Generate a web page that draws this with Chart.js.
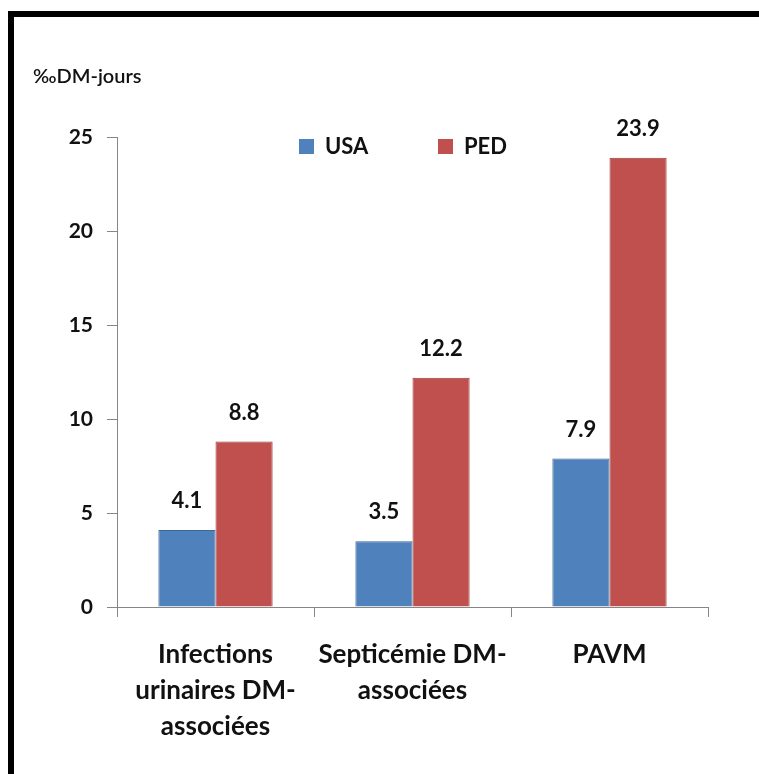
<!DOCTYPE html>
<html>
<head>
<meta charset="utf-8">
<script src="https://cdn.jsdelivr.net/npm/chart.js@4.4.1/dist/chart.umd.min.js"></script>
<style>
  html, body { margin: 0; padding: 0; background: #fff; overflow: hidden; }
  #wrap { position: relative; width: 759px; height: 774px; overflow: hidden; }
  #frame {
    position: absolute; left: 8px; top: 11px; width: 900px; height: 900px;
    border-top: 6px solid #000; border-left: 6px solid #000;
  }
  #chart { position: absolute; left: 0; top: 0; }
</style>
</head>
<body>
<div id="wrap">
  <div id="frame"></div>
  <canvas id="chart" width="759" height="774"></canvas>
</div>
<script>
const categories = [
  ['Infections', 'urinaires DM-', 'associées'],
  ['Septicémie DM-', 'associées'],
  ['PAVM']
];
const seriesNames = ['USA', 'PED'];
const usaValues = [4.1, 3.5, 7.9];
const pedValues = [8.8, 12.2, 23.9];
const yTicks = [0, 5, 10, 15, 20, 25];
const yTitle = '‰DM-jours';

const FONT = 'Lato, "Open Sans", sans-serif';
const AXIS_GREY = '#868686';
const COLORS = [
  { fill: '#4F81BD', border: '#3C6696' },
  { fill: '#C0504D', border: '#983E3C' }
];

// value labels above each bar
const valueLabels = {
  id: 'valueLabels',
  afterDatasetsDraw(chart) {
    const ctx = chart.ctx;
    ctx.save();
    ctx.font = 'bold 22px ' + FONT;
    ctx.fillStyle = '#111';
    ctx.textAlign = 'center';
    ctx.textBaseline = 'middle';
    chart.data.datasets.forEach((ds, i) => {
      chart.getDatasetMeta(i).data.forEach((bar, j) => {
        ctx.fillText(ds.data[j].toFixed(1), bar.x, bar.y - 29);
      });
    });
    ctx.restore();
  }
};

// legend inside the plot area + y title in the top left corner
const extras = {
  id: 'extras',
  afterDraw(chart) {
    const ctx = chart.ctx;
    const area = chart.chartArea;
    ctx.save();
    ctx.font = 'bold 22px ' + FONT;
    ctx.textBaseline = 'middle';
    chart.data.datasets.forEach((ds, i) => {
      const x = area.left + 182 + i * 139;
      const y = area.top + 2;
      ctx.fillStyle = ds.backgroundColor;
      ctx.fillRect(x, y, 15, 15);
      ctx.fillStyle = '#111';
      ctx.textAlign = 'left';
      ctx.fillText(ds.label, x + 26, y + 8);
    });

    ctx.font = '600 20px ' + FONT;
    ctx.fillStyle = '#111';
    ctx.fillText(yTitle, 33, 77);
    ctx.restore();
  }
};

new Chart(document.getElementById('chart').getContext('2d'), {
  type: 'bar',
  data: {
    labels: categories,
    datasets: [usaValues, pedValues].map((vals, i) => ({
      label: seriesNames[i],
      data: vals,
      backgroundColor: COLORS[i].fill,
      borderColor: COLORS[i].border,
      borderWidth: 1,
      categoryPercentage: 0.58,
      barPercentage: 1
    }))
  },
  options: {
    responsive: false,
    animation: false,
    layout: { padding: { top: 137, right: 51, bottom: 0, left: 0 } },
    plugins: {
      legend: { display: false },
      tooltip: { enabled: false }
    },
    scales: {
      x: {
        afterFit(scale) { scale.height = 167; },
        grid: { drawOnChartArea: false, offset: true, tickLength: 10, color: AXIS_GREY },
        border: { color: AXIS_GREY },
        ticks: {
          color: '#111',
          padding: 20,
          maxRotation: 0,
          font: { family: FONT, size: 26, weight: 'bold', lineHeight: 1.38 }
        }
      },
      y: {
        min: yTicks[0],
        max: yTicks[yTicks.length - 1],
        afterFit(scale) { scale.width = 117; },
        afterBuildTicks(scale) { scale.ticks = yTicks.map((v) => ({ value: v })); },
        grid: { drawOnChartArea: false, tickLength: 10, color: AXIS_GREY },
        border: { color: AXIS_GREY },
        ticks: {
          color: '#111',
          padding: 14,
          font: { family: FONT, size: 21, weight: 'bold' }
        }
      }
    }
  },
  plugins: [valueLabels, extras]
});
</script>
</body>
</html>
